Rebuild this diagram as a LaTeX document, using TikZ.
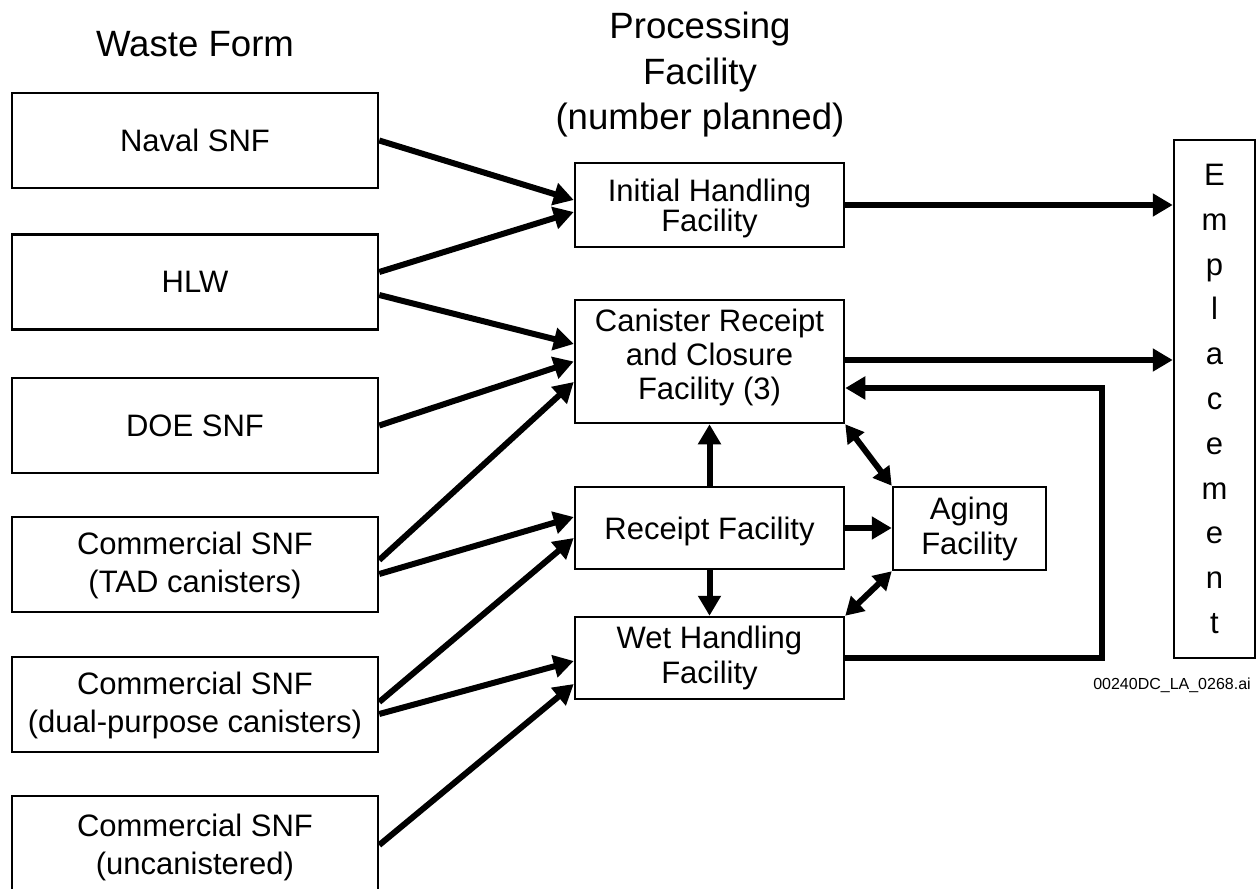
\documentclass[tikz,border=0pt]{standalone}
\usepackage{fontspec}
\setmainfont{Liberation Sans}
\usetikzlibrary{arrows.meta,calc}
\begin{document}
\begin{tikzpicture}[x=1pt,y=-1pt,
  box/.style={draw, line width=2.5pt, rectangle, inner sep=0pt, align=center, font=\fontsize{31}{35}\selectfont},
  leftbox/.style={box, minimum width=366pt, minimum height=95pt},
  midbox/.style={box, minimum width=269pt},
  flow/.style={line width=6pt, -{Triangle[length=20pt,width=22pt]}},
  dflow/.style={line width=6pt, {Triangle[length=18pt,width=20pt]}-{Triangle[length=18pt,width=20pt]}},
  title/.style={align=center, font=\fontsize{36.6}{45.5}\selectfont, inner sep=0pt}]
\useasboundingbox[fill=white] (0,0) rectangle (1256,889);

% titles
\node[title, anchor=base] (wf) at (195,56) {Waste Form};
\node[title] (pf) at (700,75) {Processing\\Facility\\(number planned)};

% waste forms
\node[leftbox, text depth=-4.6pt] (naval) at (195,140.5) {Naval SNF};
\node[leftbox, text depth=-8pt] (hlw) at (195,282) {HLW};
\node[leftbox, text depth=-9pt] (doe) at (195,425.5) {DOE SNF};
\node[leftbox, font=\fontsize{31}{38}\selectfont, text depth=3.7pt] (tad) at (195,564.5) {Commercial SNF\\(TAD canisters)};
\node[leftbox, font=\fontsize{31}{38}\selectfont, text depth=3.7pt] (dual) at (195,704.5) {Commercial SNF\\(dual-purpose canisters)};
\node[leftbox, font=\fontsize{31}{38}\selectfont, minimum height=96pt, text depth=-1pt] (uncan) at (195,844) {Commercial SNF\\(uncanistered)};

% facilities
\node[midbox, minimum height=84pt, font=\fontsize{31}{30}\selectfont, text depth=-5.5pt] (initial) at (709.5,205) {Initial Handling\\Facility};
\node[midbox, minimum height=123pt, font=\fontsize{31}{34.2}\selectfont, text depth=14.5pt] (canister) at (709.5,361.5) {Canister Receipt\\and Closure\\Facility (3)};
\node[midbox, minimum height=82pt, text depth=-5.5pt] (receipt) at (709.5,528) {Receipt Facility};
\node[midbox, minimum height=82pt] (wet) at (709.5,658) {Wet Handling\\Facility};
\node[box, minimum width=153pt, minimum height=83pt] (aging) at (969.5,528.5) {Aging\\Facility};
\node[box, minimum width=81pt, minimum height=518pt, font=\fontsize{31}{44.8}\selectfont] (emp) at (1214.5,399) {E\\m\\p\\l\\a\\c\\e\\m\\e\\n\\t};

\node[anchor=base, inner sep=0pt, font=\fontsize{16}{16}\selectfont] (lbl) at (1172,689) {00240DC\_LA\_0268.ai};

% inputs
\draw[flow] (naval.east) -- ([yshift=5pt]initial.west);
\draw[flow] ([yshift=10pt]hlw.east) -- ([yshift=-7pt]initial.west);
\draw[flow] ([yshift=-13pt]hlw.east) -- ([yshift=17.5pt]canister.west);
\draw[flow] (doe.east) -- (canister.west);
\draw[flow] ([yshift=4.5pt]tad.east) -- ([yshift=-20.5pt]canister.west);
\draw[flow] ([yshift=-9.5pt]tad.east) -- ([yshift=11pt]receipt.west);
\draw[flow] ([yshift=2.5pt]dual.east) -- ([yshift=-10pt]receipt.west);
\draw[flow] ([yshift=-9.5pt]dual.east) -- ([yshift=-3pt]wet.west);
\draw[flow] ([yshift=-1pt]uncan.east) -- ([yshift=-26pt]wet.west);

% outputs
\coordinate (c1) at ([yshift=1.5pt]canister.east);
\coordinate (cin) at ([yshift=-26.5pt]canister.east);
\coordinate (rx) at (1102,0);
\draw[flow] (initial.east) -- (initial.east -| emp.west);
\draw[flow] (c1) -- (c1 -| emp.west);
\draw[flow] (wet.east) -- (wet.east -| rx) -- (cin -| rx) -- (cin);
\draw[flow] (receipt.east) -- (receipt.east -| aging.west);
\draw[flow] (receipt.north) -- (canister.south);
\draw[flow] (receipt.south) -- (wet.north);
\draw[dflow] (canister.south east) -- (aging.north west);
\draw[dflow] (wet.north east) -- (aging.south west);
\end{tikzpicture}
\end{document}
